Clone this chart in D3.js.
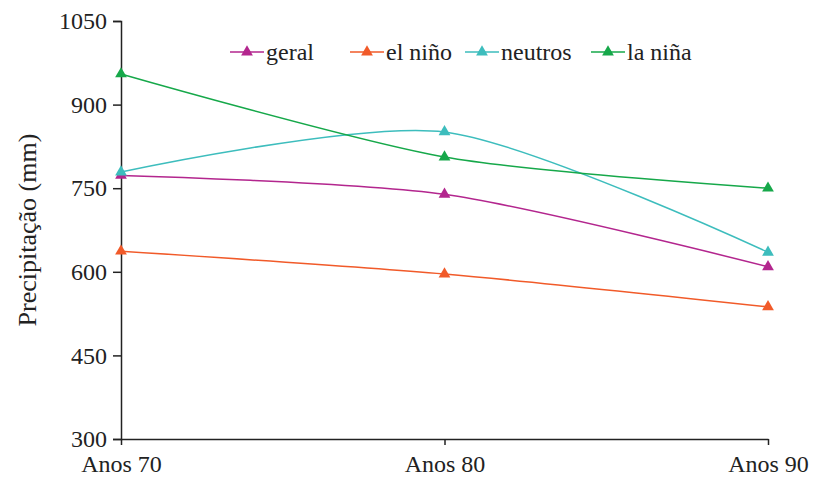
<!DOCTYPE html>
<html>
<head>
<meta charset="utf-8">
<script src="https://cdn.jsdelivr.net/npm/d3@7"></script>
<style>
  body { margin: 0; background: #fff; }
  text { font-family: "Liberation Serif", "DejaVu Serif", serif; fill: #222; }
</style>
</head>
<body>
<div id="chart"></div>
<script>
// data
const periods = ["Anos 70", "Anos 80", "Anos 90"];
const geral = [773, 739, 609];
const elNino = [637, 596, 537];
const neutros = [779, 851, 635];
const laNina = [955, 806, 750];
const yTicks = [300, 450, 600, 750, 900, 1050];

const series = [
    { name: "geral", values: geral, color: "#b3268e" },
    { name: "el niño", values: elNino, color: "#f15a29" },
    { name: "neutros", values: neutros, color: "#3dbdbd" },
    { name: "la niña", values: laNina, color: "#16a84a" }
];

const margin = { top: 21, right: 45, bottom: 39, left: 121 };
const width = 813 - margin.left - margin.right;
const height = 478 - margin.top - margin.bottom;

const svg = d3.select("#chart")
    .append("svg")
    .attr("width", 813)
    .attr("height", 478)
    .append("g")
    .attr("transform", "translate(" + margin.left + "," + margin.top + ")");

const xScale = d3.scalePoint()
    .domain(periods)
    .range([0, width]);

const yScale = d3.scaleLinear()
    .domain([300, 1050])
    .range([height, 0]);

// y axis
const yAxis = svg.append("g")
    .call(d3.axisLeft(yScale).tickValues(yTicks).tickFormat(d3.format("d"))
        .tickSize(8).tickPadding(6));
yAxis.select(".domain").attr("stroke", "#222").attr("stroke-width", 1.5);
yAxis.selectAll(".tick line").attr("stroke", "#222").attr("stroke-width", 1.5);
yAxis.selectAll("text").style("font-size", "24px").attr("fill", "#222");

// x axis
const xAxis = svg.append("g")
    .attr("transform", "translate(0," + height + ")")
    .call(d3.axisBottom(xScale).tickSize(6).tickPadding(10).tickSizeOuter(0));
xAxis.select(".domain").attr("stroke", "#222").attr("stroke-width", 1.5);
xAxis.selectAll(".tick line").attr("stroke", "#222").attr("stroke-width", 1.5);
xAxis.selectAll("text").style("font-size", "24px").attr("fill", "#222");

// y label
svg.append("text")
    .attr("transform", "rotate(-90)")
    .attr("x", -height / 2)
    .attr("y", -margin.left + 36)
    .style("text-anchor", "middle")
    .style("font-size", "26px")
    .text("Precipitação (mm)");

const line = d3.line()
    .x((d, i) => xScale(periods[i]))
    .y(d => yScale(d))
    .curve(d3.curveCardinal.tension(0.2));

const tri = d3.symbol().type(d3.symbolTriangle).size(60);

series.forEach(s => {
    svg.append("path")
        .datum(s.values)
        .attr("fill", "none")
        .attr("stroke", s.color)
        .attr("stroke-width", 1.5)
        .attr("d", line);

    svg.selectAll(null)
        .data(s.values)
        .enter()
        .append("path")
        .attr("d", tri)
        .attr("fill", s.color)
        .attr("transform", (d, i) => "translate(" + xScale(periods[i]) + "," + yScale(d) + ")");
});

// legend
const legendX = [109, 229, 344, 470];
const legend = svg.selectAll(".legend")
    .data(series)
    .enter()
    .append("g")
    .attr("transform", (d, i) => "translate(" + legendX[i] + "," + 31 + ")");

legend.append("line")
    .attr("x1", 0).attr("x2", 34)
    .attr("stroke", d => d.color)
    .attr("stroke-width", 1.6);
legend.append("path")
    .attr("d", tri)
    .attr("fill", d => d.color)
    .attr("transform", "translate(17,0)");
legend.append("text")
    .attr("x", 36)
    .attr("dy", "0.32em")
    .style("font-size", "24px")
    .text(d => d.name);
</script>
</body>
</html>
